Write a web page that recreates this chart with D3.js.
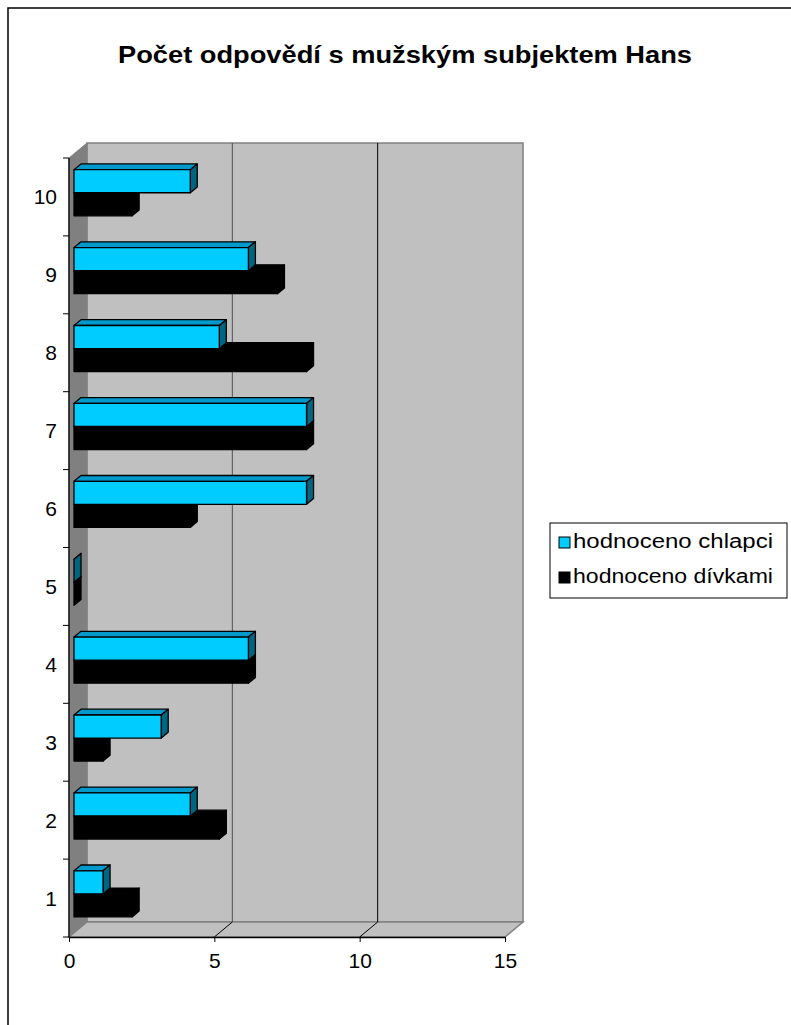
<!DOCTYPE html>
<html>
<head>
<meta charset="utf-8">
<script src="https://cdn.jsdelivr.net/npm/d3@7"></script>
<style>
  html, body { margin: 0; padding: 0; background: #fff; }
  svg { display: block; }
  text { font-family: "Liberation Sans", Arial, sans-serif; }
</style>
</head>
<body>
<svg id="chart" width="791" height="1025"></svg>
<script>
// ---- data ----
const categories = ["1", "2", "3", "4", "5", "6", "7", "8", "9", "10"];
const seriesNames = ["hodnoceno chlapci", "hodnoceno dívkami"];
const chlapci = [1, 4, 3, 6, 0, 8, 8, 5, 6, 4];
const divkami = [2, 5, 1, 6, 0, 4, 8, 8, 7, 2];
const xTicks = [0, 5, 10, 15];
const title = "Počet odpovědí s mužským subjektem Hans";

// ---- layout ----
const svg = d3.select("#chart");
const front = { left: 69, right: 505, top: 158, bottom: 937 };
const depth = { dx: 18, dy: -15 };          // full depth of the 3D box
const barOff = { dx: 5, dy: -4.2 };          // bar front face offset into depth
const barDepth = { dx: 7, dy: -5.8 };        // bar thickness in depth

const x = d3.scaleLinear().domain([0, 15]).range([front.left, front.right]);
const y = d3.scaleBand().domain(categories).range([front.bottom, front.top]);
const yInner = d3.scaleBand().domain(seriesNames)
  .range([0, y.bandwidth()]).paddingInner(0).paddingOuter(0.69);

const colors = {
  "hodnoceno chlapci": { front: "#00ccff", top: "#0099cc", side: "#006680" },
  "hodnoceno dívkami": { front: "#000000", top: "#000000", side: "#000000" }
};

// outer border
svg.append("rect").attr("x", 8).attr("y", 8).attr("width", 800).attr("height", 1040)
  .attr("fill", "none").attr("stroke", "#000").attr("stroke-width", 1.5);

// title
svg.append("text").attr("x", 405).attr("y", 63).attr("text-anchor", "middle")
  .attr("font-size", 23).attr("font-weight", "bold")
  .attr("textLength", 574).attr("lengthAdjust", "spacingAndGlyphs")
  .text(title);

const pt = (a) => a.map(p => p.join(",")).join(" ");
const x0 = x(0), x15 = x(15);
const yTop = front.top, yBot = front.bottom;

// back wall
svg.append("polygon")
  .attr("points", pt([[x0 + depth.dx, yTop + depth.dy], [x15 + depth.dx, yTop + depth.dy],
                      [x15 + depth.dx, yBot + depth.dy], [x0 + depth.dx, yBot + depth.dy]]))
  .attr("fill", "#c0c0c0").attr("stroke", "#808080").attr("stroke-width", 1.5);
// side wall
svg.append("polygon")
  .attr("points", pt([[x0, yTop], [x0 + depth.dx, yTop + depth.dy],
                      [x0 + depth.dx, yBot + depth.dy], [x0, yBot]]))
  .attr("fill", "#808080").attr("stroke", "#808080").attr("stroke-width", 1);
// floor
svg.append("polygon")
  .attr("points", pt([[x0, yBot], [x0 + depth.dx, yBot + depth.dy],
                      [x15 + depth.dx, yBot + depth.dy], [x15, yBot]]))
  .attr("fill", "#c0c0c0").attr("stroke", "#808080").attr("stroke-width", 1.5);

// gridlines (back wall + floor)
const gridVals = xTicks.filter(v => v > 0 && v < 15);
const gridColors = ["#505050", "#000"];
gridVals.forEach((v, i) => {
  svg.append("line")
    .attr("x1", x(v) + depth.dx).attr("x2", x(v) + depth.dx)
    .attr("y1", yTop + depth.dy).attr("y2", yBot + depth.dy)
    .attr("stroke", gridColors[i]).attr("stroke-width", 1);
  svg.append("line")
    .attr("x1", x(v)).attr("y1", yBot)
    .attr("x2", x(v) + depth.dx).attr("y2", yBot + depth.dy)
    .attr("stroke", "#000").attr("stroke-width", 1);
});

// bars
const rows = [];
categories.forEach((c, i) => {
  rows.push({ cat: c, s: seriesNames[1], v: divkami[i] });
  rows.push({ cat: c, s: seriesNames[0], v: chlapci[i] });
});
const bars = svg.append("g");
rows.forEach(d => {
  const fx0 = x(0) + barOff.dx, fx1 = x(d.v) + barOff.dx;
  const fy0 = y(d.cat) + yInner(d.s) + barOff.dy;
  const fy1 = fy0 + yInner.bandwidth();
  const dx = barDepth.dx, dy = barDepth.dy;
  const col = colors[d.s];
  const g = bars.append("g").attr("stroke", "#000").attr("stroke-width", 1.3)
    .attr("stroke-linejoin", "round");
  g.append("polygon").attr("fill", col.top)
    .attr("points", pt([[fx0, fy0], [fx0 + dx, fy0 + dy], [fx1 + dx, fy0 + dy], [fx1, fy0]]));
  g.append("polygon").attr("fill", col.side)
    .attr("points", pt([[fx1, fy0], [fx1 + dx, fy0 + dy], [fx1 + dx, fy1 + dy], [fx1, fy1]]));
  g.append("rect").attr("fill", col.front)
    .attr("x", fx0).attr("y", fy0).attr("width", fx1 - fx0).attr("height", fy1 - fy0);
});

// x axis
const xAxis = d3.axisBottom(x).tickValues(xTicks).tickSize(5).tickSizeOuter(0).tickPadding(10);
const gx = svg.append("g").attr("transform", `translate(0,${yBot})`).call(xAxis);
gx.select(".domain").attr("stroke", "#000").attr("stroke-width", 1.3);
gx.selectAll(".tick line").attr("stroke", "#000");
gx.selectAll(".tick text").attr("font-size", 21).attr("font-family", "Liberation Sans, Arial, sans-serif")
  .attr("fill", "#000").attr("dy", null).attr("y", 31);

// y axis (ticks at category boundaries, labels at centres)
svg.append("line").attr("x1", x0).attr("x2", x0).attr("y1", yTop).attr("y2", yBot)
  .attr("stroke", "#000").attr("stroke-width", 1.3);
const bounds = categories.map(c => y(c)).concat([yBot]);
svg.append("g").selectAll("line").data(bounds).join("line")
  .attr("x1", x0 - 6).attr("x2", x0).attr("y1", d => d).attr("y2", d => d)
  .attr("stroke", "#000").attr("stroke-width", 1);
svg.append("g").selectAll("text").data(categories).join("text")
  .attr("x", 57).attr("y", d => y(d) + y.bandwidth() / 2 + 7.5)
  .attr("text-anchor", "end").attr("font-size", 21).attr("fill", "#000")
  .text(d => d);

// legend
const lg = svg.append("g");
lg.append("rect").attr("x", 550).attr("y", 523).attr("width", 237).attr("height", 75)
  .attr("fill", "#fff").attr("stroke", "#000").attr("stroke-width", 1);
seriesNames.forEach((s, i) => {
  const yy = 537 + i * 35;
  lg.append("rect").attr("x", 559).attr("y", yy).attr("width", 11).attr("height", 11)
    .attr("fill", colors[s].front).attr("stroke", "#000").attr("stroke-width", 1);
  lg.append("text").attr("x", 573).attr("y", yy + 11).attr("font-size", 20)
    .attr("textLength", 200).attr("lengthAdjust", "spacingAndGlyphs")
    .attr("fill", "#000").text(s);
});
</script>
</body>
</html>
